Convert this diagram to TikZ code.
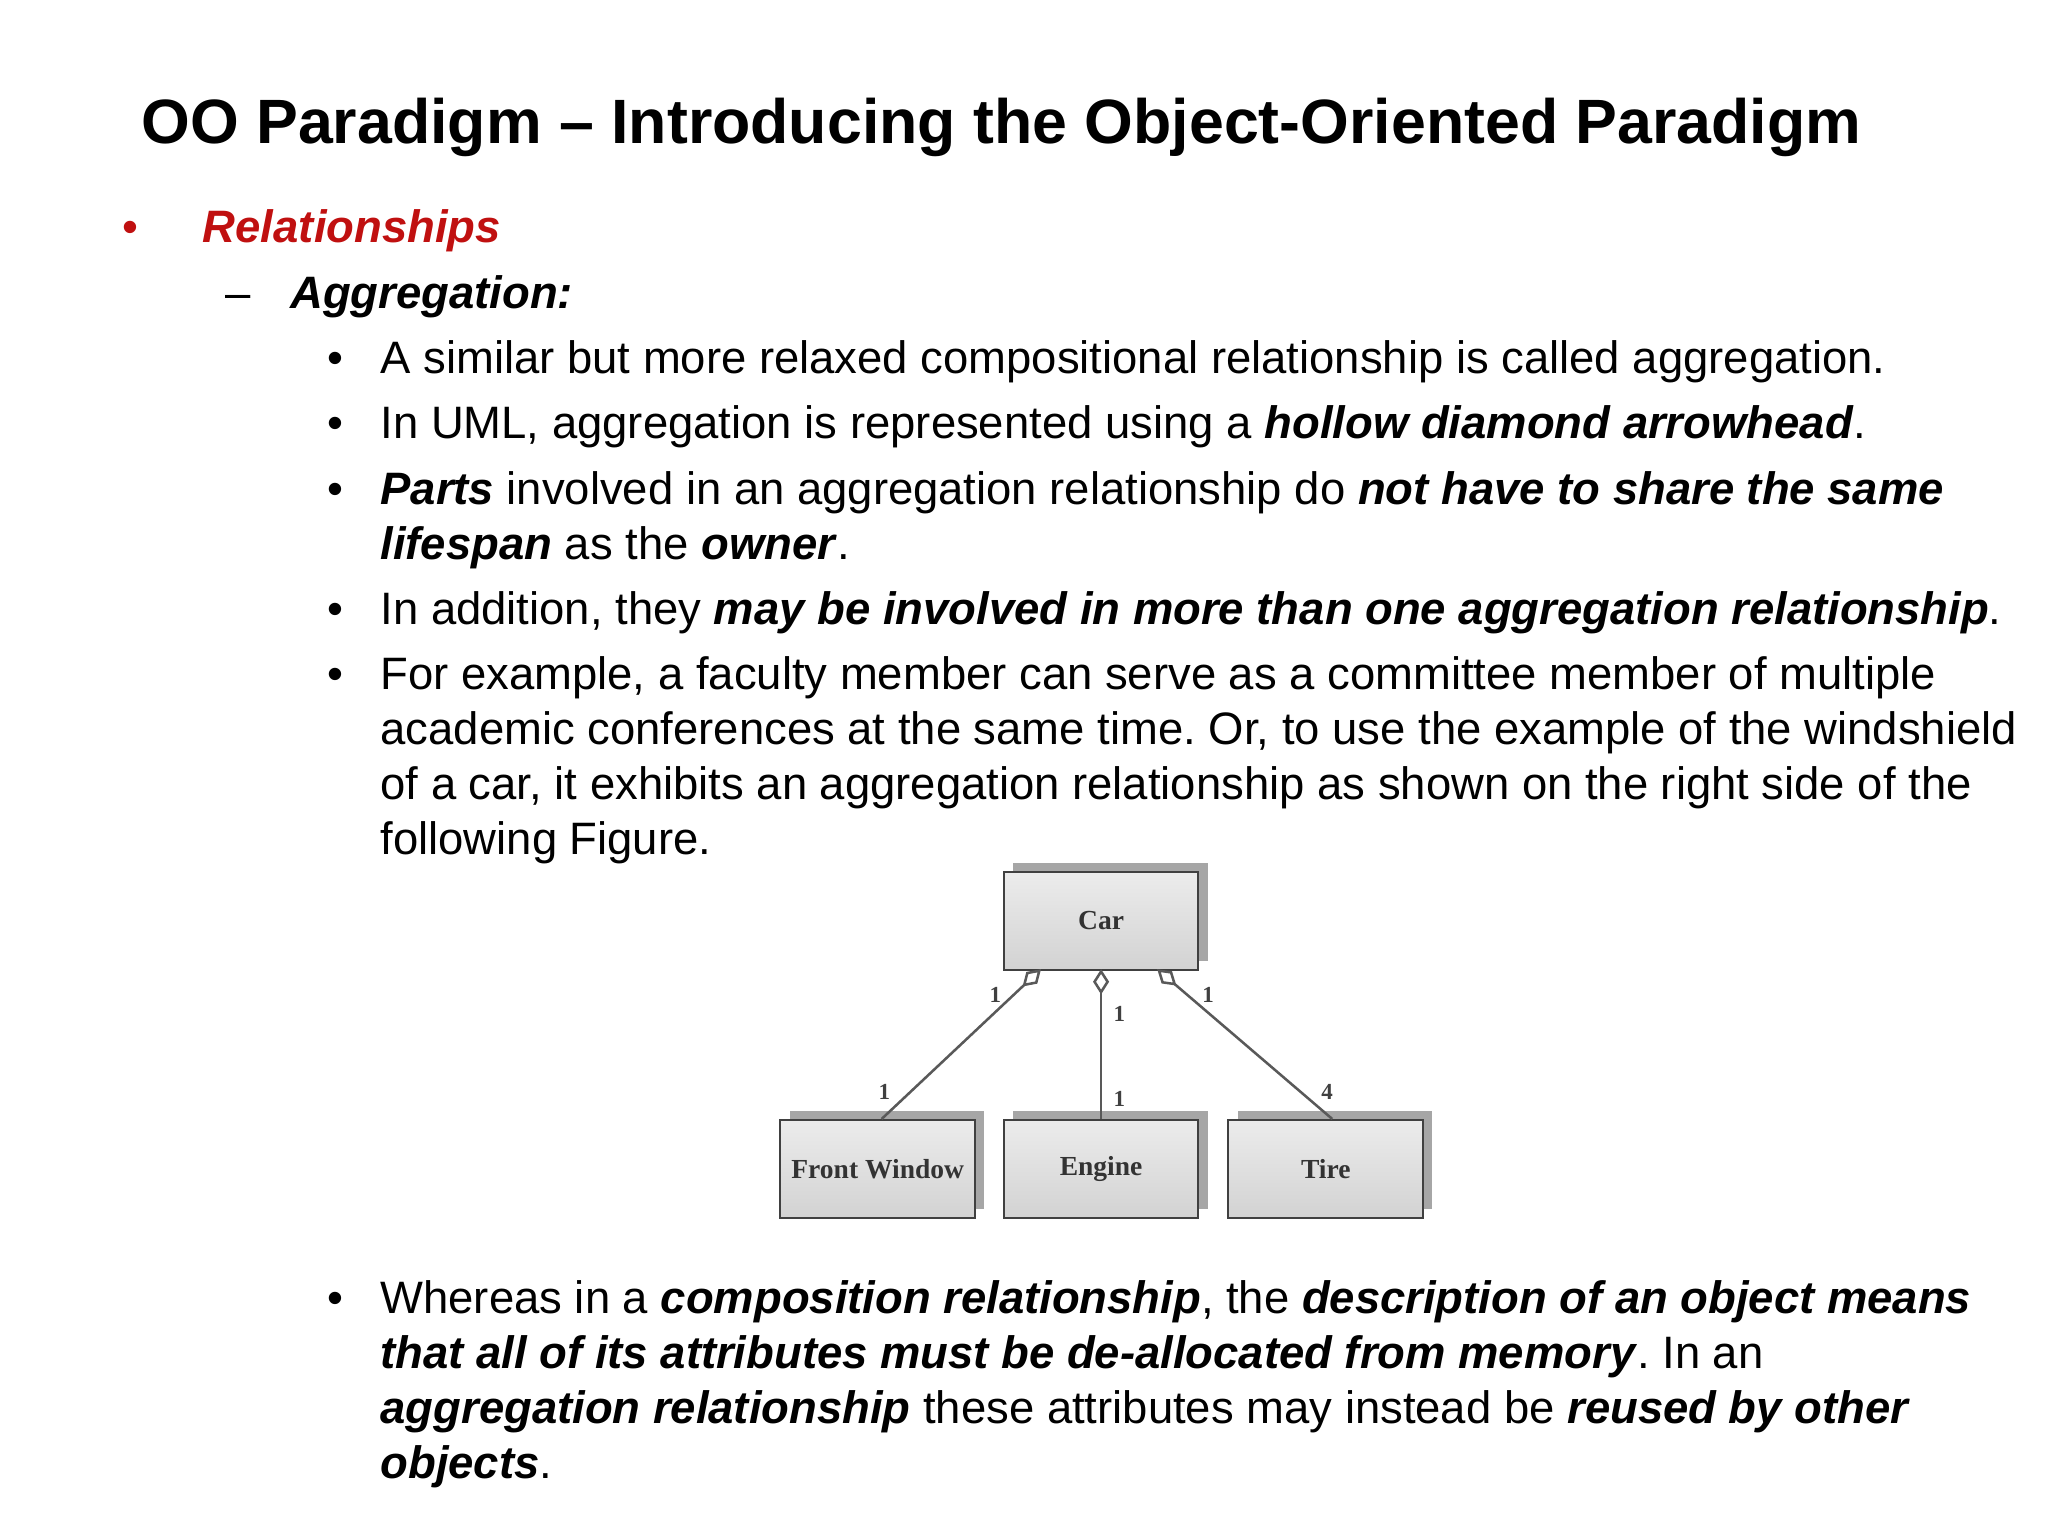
\documentclass[tikz,border=0pt]{standalone}
\usepackage{fontspec}
\setmainfont{Liberation Sans}
\newfontfamily\serifdiag{Liberation Serif}
\usetikzlibrary{arrows.meta,shadows}
\frenchspacing
\definecolor{slidered}{RGB}{192,16,16}
\tikzset{
  txt/.style={anchor=base west,inner sep=0pt,font=\fontsize{19.8}{22}\selectfont},
  bul/.style={anchor=base,inner sep=0pt,font=\fontsize{19.8}{22}\selectfont},
  cls/.style={draw=black!75,line width=0.9pt,minimum width=2.98cm,minimum height=1.5cm,
    top color=gray!15,bottom color=gray!35,inner sep=0pt,
    font=\serifdiag\bfseries\fontsize{12}{14}\selectfont,text=black!80,
    drop shadow={shadow xshift=4pt,shadow yshift=4pt,fill=gray!70,opacity=1}},
  agg/.style={draw=black!65,line width=1.1pt,-{Diamond[open,length=11pt,width=7pt]}},
  mult/.style={inner sep=0pt,font=\serifdiag\bfseries\fontsize{10}{12}\selectfont,text=black!75}
}
\newcommand{\bib}[1]{\textbf{\textit{#1}}}
\begin{document}
\begin{tikzpicture}[x=0.02cm,y=-0.02cm]
\useasboundingbox (0,0) rectangle (1568,1176);
\fill[white] (0,0) rectangle (1568,1176);
\node[anchor=base west,inner sep=0pt,font=\bfseries\fontsize{27.3}{30}\selectfont] (title) at (108,110) {OO Paradigm -- Introducing the Object-Oriented Paradigm};
\node[bul,text=slidered] (b0) at (100,186) {•};
\node[txt,text=slidered] (t0) at (155,186) {\bib{Relationships}};
\node[bul] (b1) at (182,236) {--};
\node[txt] (t1) at (222,236) {\bib{Aggregation:}};
\foreach \y in {286,336,386,478,528,1006}{\node[bul] at (257,\y) {•};}
\node[txt] (l1) at (291,286) {A similar but more relaxed compositional relationship is called aggregation.};
\node[txt] (l2) at (291,336) {In UML, aggregation is represented using a \bib{hollow diamond arrowhead}.};
\node[txt] (l3) at (291,386) {\bib{Parts} involved in an aggregation relationship do \bib{not have to share the same}};
\node[txt] (l3b) at (291,428) {\bib{lifespan} as the \bib{owner}.};
\node[txt] (l4) at (291,478) {In addition, they \bib{may be involved in more than one aggregation relationship}.};
\node[txt] (l5) at (291,528) {For example, a faculty member can serve as a committee member of multiple};
\node[txt] (l5b) at (291,570) {academic conferences at the same time. Or, to use the example of the windshield};
\node[txt] (l5c) at (291,612) {of a car, it exhibits an aggregation relationship as shown on the right side of the};
\node[txt] (l5d) at (291,654) {following Figure.};
\node[txt] (l6) at (291,1006) {Whereas in a \bib{composition relationship}, the \bib{description of an object means}};
\node[txt] (l6b) at (291,1048) {\bib{that all of its attributes must be de-allocated from memory}. In an};
\node[txt] (l6c) at (291,1090) {\bib{aggregation relationship} these attributes may instead be \bib{reused by other}};
\node[txt] (l6d) at (291,1132) {\bib{objects}.};
% diagram
\node[cls] (car) at (843,705) {Car};
\node[cls] (fw) at (672,895) {Front Window};
\node[cls] (eng) at (843,895) {Engine};
\node[cls] (tire) at (1015,895) {Tire};
\coordinate (c1) at (797,742);
\coordinate (c2) at (843,742);
\coordinate (c3) at (886,742);
\draw[agg] (fw.north) ++(3,0) -- (c1);
\draw[agg] (eng.north) -- (c2);
\draw[agg] (tire.north) ++(5,0) -- (c3);
\node[mult] at (762,762) {1};
\node[mult] at (857,776) {1};
\node[mult] at (925,762) {1};
\node[mult] at (677,836) {1};
\node[mult] at (857,841) {1};
\node[mult] at (1016,836) {4};
\end{tikzpicture}
\end{document}
